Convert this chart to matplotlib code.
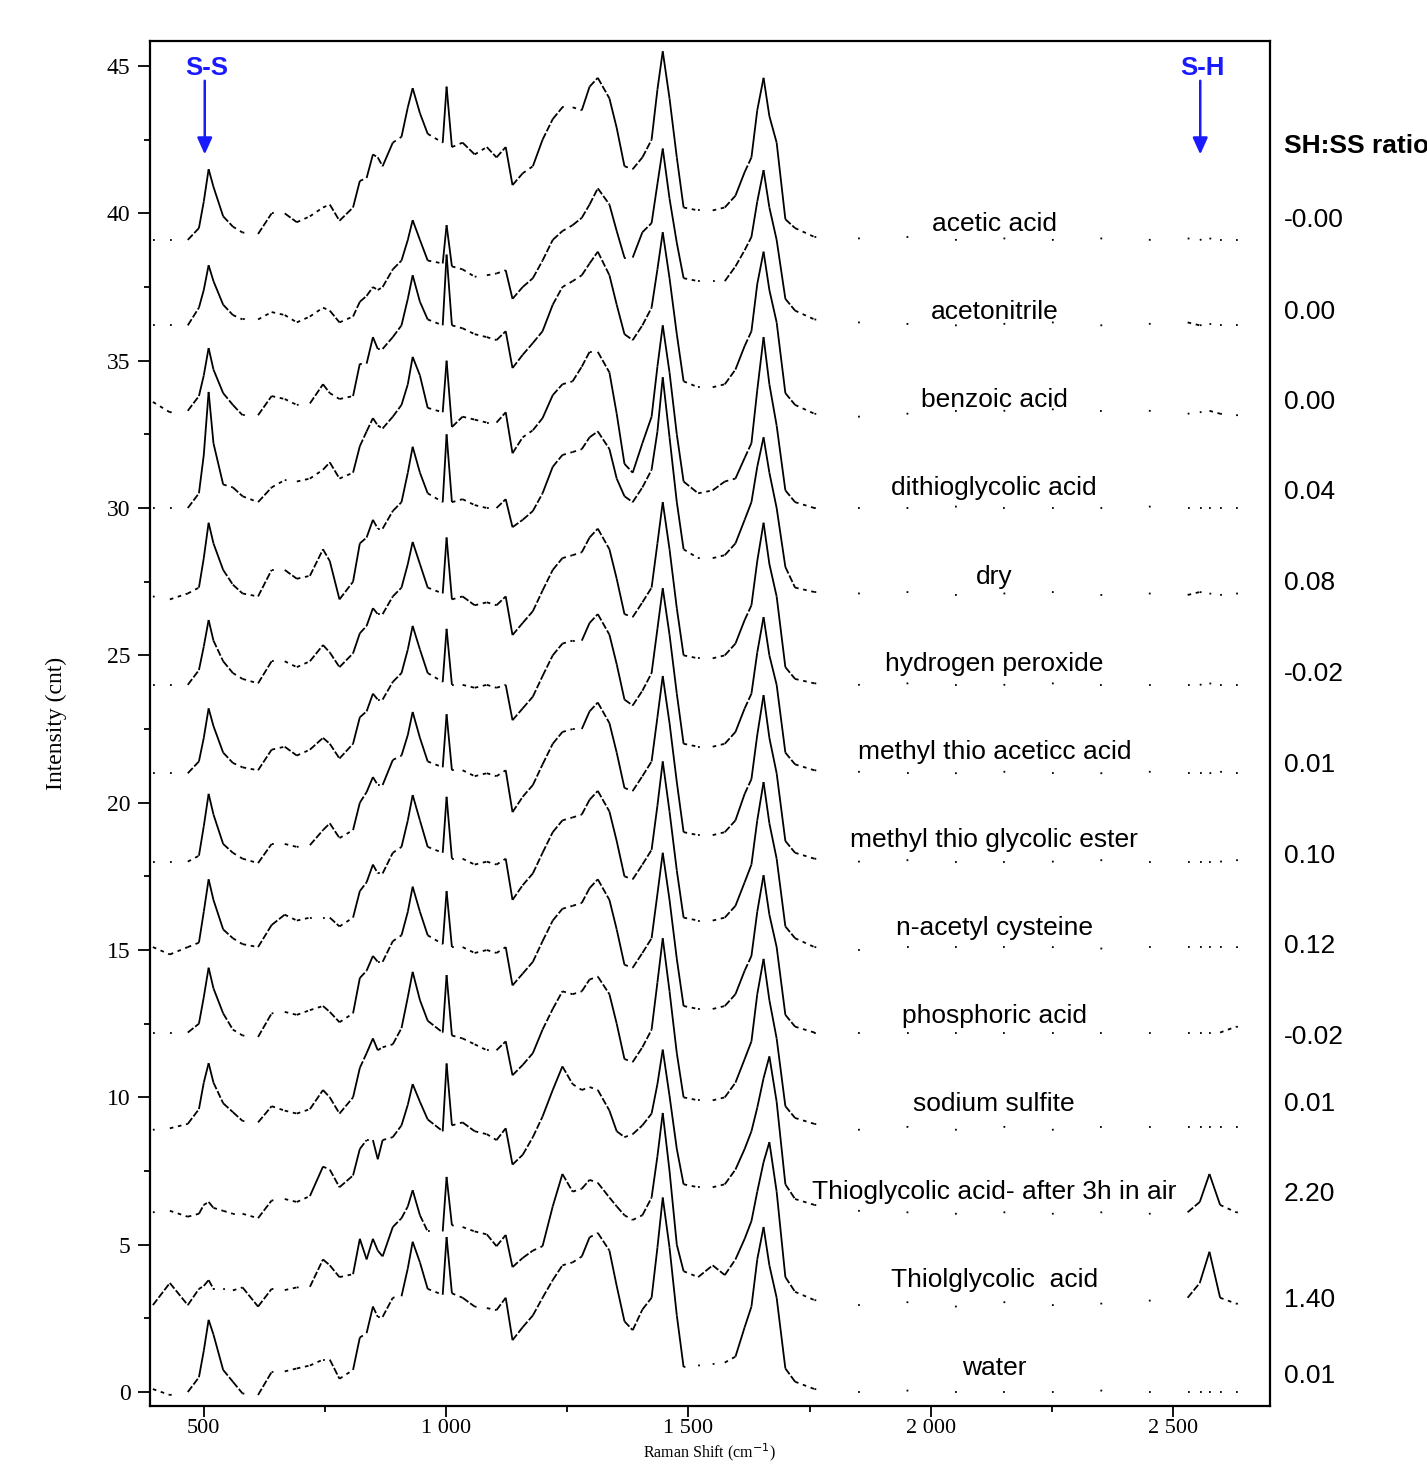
"""
Stacked Raman spectra of hair samples after different treatments,
with the S-S and S-H bands marked and the SH:SS ratio listed on the right.
"""

import numpy as np
import matplotlib
matplotlib.use("Agg")
import matplotlib.pyplot as plt
from matplotlib.collections import LineCollection

# Raman shift grid shared by all spectra (cm-1)
raman_shift = [
    395, 430, 467, 490, 500, 510, 520, 540, 560, 580,
    612, 640, 667, 692, 719, 746, 760, 780, 808, 822, 836, 849, 859, 869,
    890, 908, 921, 931, 946, 962, 993, 1001, 1012, 1034,
    1059, 1084, 1104, 1123, 1137, 1158, 1179, 1199, 1220, 1240,
    1261, 1280, 1296, 1313, 1337, 1352, 1368, 1385, 1405, 1424,
    1436, 1447, 1461, 1476, 1490, 1520, 1550, 1575, 1597, 1616,
    1630, 1642, 1655, 1667, 1682, 1700, 1720, 1760,
    1850, 1950, 2050, 2150, 2250, 2350, 2450, 2530, 2555, 2575, 2597, 2630, 2700,
]

# intensities relative to each trace's own stacking offset
acetic_acid = [
    0.0, 0.0, 0.0, 0.4, 1.3, 2.4, 1.8, 0.8, 0.45, 0.25,
    0.2, 0.9, 0.9, 0.6, 0.8, 1.1, 1.2, 0.65, 1.1, 2.0, 2.1, 2.9, 2.8, 2.5,
    3.3, 3.5, 4.5, 5.15, 4.3, 3.6, 3.3, 5.2, 3.15, 3.3,
    2.9, 3.15, 2.8, 3.15, 1.86, 2.26, 2.5, 3.4, 4.1, 4.5,
    4.5, 4.4, 5.2, 5.5, 4.8, 3.8, 2.5, 2.4, 2.8, 3.4,
    5.1, 6.4, 4.8, 2.8, 1.1, 1.0, 1.0, 1.1, 1.5, 2.3,
    2.8, 4.4, 5.5, 4.2, 3.3, 0.7, 0.4, 0.1,
    0.05, 0.1, 0.0, 0.05, 0.0, 0.05, 0.0, 0.05, 0.0, 0.05, 0.0, 0.0, 0.0,
]
acetonitrile = [
    0.0, 0.0, 0.0, 0.6, 1.2, 2.04, 1.5, 0.7, 0.35, 0.2,
    0.2, 0.45, 0.35, 0.1, 0.3, 0.6, 0.5, 0.1, 0.3, 0.8, 1.0, 1.3, 1.2, 1.3,
    1.9, 2.2, 2.9, 3.57, 2.9, 2.2, 2.1, 3.4, 2.0, 1.9,
    1.65, 1.7, 1.76, 1.87, 0.9, 1.3, 1.6, 2.2, 2.9, 3.2,
    3.4, 3.65, 4.1, 4.65, 4.1, 3.2, 2.3, 2.3, 3.16, 3.47,
    4.8, 6.0, 4.3, 2.8, 1.6, 1.5, 1.5, 1.5, 2.0, 2.55,
    3.0, 4.2, 5.27, 4.0, 2.9, 0.9, 0.5, 0.2,
    0.1, 0.05, 0.0, 0.05, 0.1, 0.0, 0.05, 0.1, 0.0, 0.05, 0.0, 0.0, 0.0,
]
benzoic_acid = [
    0.3, -0.05, 0.0, 0.5, 1.2, 2.13, 1.4, 0.6, 0.2, -0.15,
    -0.15, 0.5, 0.4, 0.2, 0.25, 0.9, 0.6, 0.4, 0.5, 1.6, 1.6, 2.5, 2.1, 2.1,
    2.5, 2.9, 3.8, 4.6, 3.7, 3.1, 2.9, 5.3, 2.9, 2.8,
    2.6, 2.5, 2.4, 2.7, 1.45, 1.9, 2.3, 2.7, 3.6, 4.2,
    4.4, 4.6, 5.0, 5.4, 4.6, 3.6, 2.6, 2.4, 2.9, 3.5,
    4.8, 6.06, 4.5, 2.6, 1.0, 0.8, 0.8, 0.9, 1.4, 2.2,
    2.7, 4.3, 5.4, 4.1, 3.0, 0.6, 0.2, -0.1,
    -0.2, -0.1, 0.0, 0.0, 0.05, 0.0, 0.0, -0.1, -0.05, 0.0, -0.1, -0.15, -0.1,
]
dithioglycolic_acid = [
    0.0, 0.0, 0.0, 0.5, 1.8, 3.94, 2.2, 0.8, 0.7, 0.4,
    0.2, 0.7, 0.95, 0.9, 1.0, 1.3, 1.55, 1.0, 1.2, 2.1, 2.6, 3.05, 2.8, 2.7,
    3.1, 3.5, 4.2, 5.13, 4.5, 3.4, 3.25, 5.0, 2.75, 3.1,
    3.0, 2.9, 2.9, 3.25, 1.86, 2.4, 2.64, 3.05, 3.83, 4.2,
    4.3, 4.8, 5.3, 5.3, 4.6, 3.2, 1.5, 1.2, 2.2, 3.1,
    4.8, 6.2, 4.6, 2.5, 0.9, 0.5, 0.6, 0.9, 1.0, 1.7,
    2.2, 4.0, 5.8, 4.2, 2.8, 0.6, 0.2, 0.0,
    0.0, 0.0, 0.05, 0.0, 0.0, 0.0, 0.05, 0.0, 0.0, 0.0, 0.0, 0.0, 0.0,
]
dry = [
    0.0, -0.1, 0.1, 0.3, 1.3, 2.5, 1.8, 0.9, 0.4, 0.1,
    0.0, 0.9, 0.9, 0.6, 0.7, 1.6, 1.2, -0.1, 0.5, 1.8, 2.0, 2.6, 2.3, 2.3,
    2.9, 3.2, 4.2, 5.08, 4.2, 3.5, 3.2, 5.5, 3.2, 3.3,
    3.1, 3.0, 3.0, 3.3, 2.35, 2.6, 2.9, 3.5, 4.4, 4.8,
    4.9, 5.0, 5.4, 5.6, 5.0, 4.0, 3.4, 3.2, 3.7, 4.3,
    5.6, 7.44, 5.4, 3.2, 1.6, 1.3, 1.3, 1.4, 1.8, 2.6,
    3.2, 4.4, 5.4, 4.2, 3.0, 1.0, 0.3, 0.15,
    0.1, 0.15, 0.05, 0.1, 0.15, 0.05, 0.1, 0.05, 0.15, 0.1, 0.05, 0.1, 0.05,
]
hydrogen_peroxide = [
    0.0, 0.0, 0.0, 0.5, 1.3, 2.2, 1.5, 0.8, 0.4, 0.2,
    0.05, 0.8, 0.8, 0.6, 0.8, 1.35, 1.1, 0.6, 1.07, 1.75, 2.0, 2.6, 2.4, 2.4,
    3.0, 3.3, 4.1, 4.85, 4.1, 3.3, 3.1, 5.0, 2.9, 3.0,
    2.7, 2.8, 2.7, 3.0, 1.69, 2.1, 2.5, 3.2, 3.9, 4.3,
    4.4, 4.5, 5.0, 5.3, 4.6, 3.6, 2.4, 2.3, 2.8, 3.3,
    4.8, 6.2, 4.6, 2.6, 1.0, 0.9, 0.9, 1.0, 1.4, 2.2,
    2.7, 4.2, 5.5, 4.1, 3.0, 0.6, 0.2, 0.05,
    0.0, 0.05, 0.0, 0.0, 0.05, 0.0, 0.0, 0.0, 0.0, 0.05, 0.0, 0.0, 0.0,
]
methyl_thio_acetic = [
    0.0, 0.0, 0.0, 0.4, 1.2, 2.2, 1.6, 0.7, 0.35, 0.2,
    0.1, 0.8, 0.9, 0.6, 0.8, 1.2, 1.0, 0.5, 1.0, 1.9, 2.1, 2.7, 2.5, 2.5,
    3.1, 3.4, 4.2, 5.0, 4.2, 3.4, 3.1, 4.9, 3.0, 3.0,
    2.9, 3.0, 2.9, 3.0, 1.8, 2.2, 2.6, 3.3, 4.0, 4.4,
    4.5, 4.5, 5.1, 5.4, 4.7, 3.7, 2.5, 2.3, 2.8, 3.4,
    4.9, 6.28, 4.7, 2.7, 1.0, 0.9, 0.9, 1.0, 1.4, 2.2,
    2.7, 4.1, 5.3, 4.0, 3.0, 0.7, 0.3, 0.1,
    0.05, 0.0, 0.0, 0.05, 0.0, 0.0, 0.05, 0.0, 0.0, 0.0, 0.05, 0.0, 0.0,
]
methyl_thio_glycolic_ester = [
    0.0, 0.0, 0.0, 0.2, 1.2, 2.3, 1.6, 0.6, 0.3, 0.1,
    -0.05, 0.6, 0.6, 0.5, 0.56, 1.07, 1.3, 0.8, 1.07, 2.0, 2.36, 2.87, 2.6, 2.6,
    3.45, 3.6, 4.3, 5.08, 4.2, 3.4, 3.2, 5.0, 3.1, 3.1,
    2.9, 3.0, 2.9, 3.1, 1.68, 2.2, 2.6, 3.3, 4.0, 4.4,
    4.5, 4.5, 5.1, 5.4, 4.7, 3.7, 2.5, 2.4, 2.9, 3.4,
    4.9, 6.3, 4.7, 2.7, 1.0, 0.9, 0.9, 1.0, 1.4, 2.3,
    2.8, 4.3, 5.65, 4.2, 3.0, 0.7, 0.3, 0.1,
    0.0, 0.05, 0.0, 0.0, 0.0, 0.05, 0.0, 0.0, 0.0, 0.0, 0.0, 0.05, 0.0,
]
n_acetyl_cysteine = [
    0.0, -0.25, 0.0, 0.15, 1.2, 2.3, 1.6, 0.6, 0.3, 0.1,
    0.0, 0.75, 1.1, 0.9, 1.0, 1.0, 1.0, 0.7, 1.0, 1.9, 2.2, 2.8, 2.5, 2.5,
    3.2, 3.4, 4.3, 5.16, 4.3, 3.4, 3.2, 5.1, 3.0, 3.0,
    2.8, 2.9, 2.8, 3.0, 1.6, 2.1, 2.5, 3.2, 3.9, 4.3,
    4.4, 4.5, 5.0, 5.3, 4.6, 3.6, 2.4, 2.3, 2.8, 3.3,
    4.8, 6.3, 4.6, 2.6, 1.0, 0.9, 0.9, 1.0, 1.4, 2.2,
    2.8, 4.3, 5.6, 4.2, 3.0, 0.7, 0.3, 0.0,
    -0.1, 0.0, 0.0, 0.0, 0.0, -0.05, 0.0, 0.0, 0.0, 0.0, 0.0, 0.0, -0.05,
]
phosphoric_acid = [
    0.0, 0.0, 0.0, 0.3, 1.2, 2.2, 1.5, 0.65, 0.1, -0.1,
    -0.15, 0.65, 0.7, 0.6, 0.76, 0.9, 0.7, 0.35, 0.65, 1.85, 2.1, 2.6, 2.4, 2.4,
    3.1, 3.3, 4.1, 4.95, 4.1, 3.3, 3.0, 4.8, 2.9, 2.9,
    2.7, 2.8, 2.7, 2.9, 1.6, 2.0, 2.4, 3.1, 3.8, 4.2,
    4.3, 4.4, 4.9, 5.2, 4.5, 3.5, 2.3, 2.2, 2.7, 3.2,
    4.7, 6.1, 4.5, 2.5, 0.9, 0.8, 0.8, 0.9, 1.3, 2.1,
    2.6, 4.1, 5.34, 4.0, 2.9, 0.6, 0.2, 0.0,
    0.0, 0.0, 0.0, 0.0, 0.0, 0.0, 0.0, 0.0, 0.0, 0.0, 0.0, 0.2, 0.0,
]
sodium_sulfite = [
    -0.1, -0.05, 0.1, 0.6, 1.5, 2.16, 1.5, 0.8, 0.5, 0.2,
    0.15, 0.7, 0.55, 0.45, 0.6, 1.25, 1.0, 0.45, 1.0, 2.0, 2.5, 3.0, 2.6, 2.7,
    2.8, 3.35, 4.4, 5.26, 4.3, 3.6, 3.2, 5.15, 3.1, 3.0,
    2.8, 2.6, 2.6, 2.9, 1.75, 2.1, 2.5, 3.3, 4.0, 4.6,
    4.5, 4.6, 5.0, 5.1, 4.5, 3.5, 2.3, 2.2, 2.7, 3.3,
    4.9, 6.4, 4.6, 2.5, 1.0, 0.9, 0.9, 1.0, 1.5, 2.3,
    2.9, 4.5, 5.7, 4.3, 3.0, 0.7, 0.3, 0.1,
    -0.1, 0.0, -0.1, 0.0, -0.1, 0.0, 0.0, 0.0, 0.0, 0.0, 0.0, 0.0, 0.0,
]
thioglycolic_3h_air = [
    0.05, 0.1, -0.1, 0.0, 0.3, 0.4, 0.2, 0.1, 0.0, 0.0,
    -0.15, 0.45, 0.5, 0.4, 0.6, 1.6, 1.5, 0.9, 1.3, 2.2, 2.5, 2.5, 1.85, 2.5,
    2.6, 3.0, 3.7, 4.4, 3.8, 3.2, 2.8, 5.1, 3.0, 3.1,
    2.8, 2.7, 2.5, 2.9, 1.67, 2.0, 2.6, 3.3, 4.2, 5.0,
    4.4, 4.2, 4.3, 4.2, 3.5, 2.8, 2.6, 2.7, 3.0, 3.4,
    4.4, 5.57, 4.0, 2.2, 1.0, 0.9, 0.9, 1.0, 1.5, 2.2,
    2.8, 3.6, 4.6, 5.34, 3.8, 1.0, 0.5, 0.3,
    0.1, 0.05, 0.0, 0.05, 0.0, 0.05, 0.0, 0.05, 0.4, 1.35, 0.3, 0.05, 0.0,
]
thiolglycolic_acid = [
    -0.05, 0.7, -0.05, 0.5, 0.6, 0.8, 0.5, 0.5, 0.45, 0.55,
    -0.1, 0.5, 0.46, 0.55, 0.57, 1.5, 1.3, 0.9, 1.0, 2.2, 1.5, 2.2, 1.8, 1.6,
    2.6, 2.9, 3.3, 3.85, 3.0, 2.45, 2.45, 4.3, 2.66, 2.6,
    2.45, 2.35, 1.95, 2.33, 1.24, 1.55, 1.8, 1.95, 3.3, 4.4,
    3.8, 3.9, 4.2, 4.1, 3.6, 3.3, 3.0, 2.84, 3.0, 3.6,
    5.0, 6.47, 4.5, 2.0, 1.1, 0.9, 1.3, 0.97, 1.5, 2.2,
    2.8, 3.8, 4.8, 5.48, 3.8, 0.9, 0.4, 0.12,
    -0.05, 0.05, -0.1, 0.05, -0.05, 0.0, 0.1, 0.2, 0.7, 1.76, 0.2, 0.0, -0.05,
]
water = [
    0.1, -0.1, 0.0, 0.5, 1.4, 2.45, 1.95, 0.75, 0.35, -0.05,
    -0.1, 0.68, 0.7, 0.8, 0.9, 1.1, 1.1, 0.45, 0.75, 1.85, 2.0, 2.9, 2.55, 2.55,
    3.2, 3.25, 4.2, 5.1, 4.4, 3.5, 3.3, 5.26, 3.35, 3.2,
    2.9, 2.85, 2.78, 3.2, 1.76, 2.2, 2.6, 3.2, 3.8, 4.3,
    4.4, 4.6, 5.25, 5.4, 4.8, 3.6, 2.4, 2.1, 2.8, 3.2,
    4.9, 6.6, 4.9, 2.6, 0.85, 0.9, 0.95, 1.0, 1.2, 2.2,
    2.9, 4.5, 5.6, 4.3, 3.2, 0.8, 0.35, 0.1,
    0.0, 0.05, 0.0, 0.0, 0.0, 0.05, 0.0, 0.0, 0.0, 0.0, 0.0, 0.0, 0.0,
]

spectra = [acetic_acid, acetonitrile, benzoic_acid, dithioglycolic_acid, dry,
           hydrogen_peroxide, methyl_thio_acetic, methyl_thio_glycolic_ester,
           n_acetyl_cysteine, phosphoric_acid, sodium_sulfite,
           thioglycolic_3h_air, thiolglycolic_acid, water]
offsets = [39.1, 36.2, 33.3, 30.0, 27.0, 24.0, 21.0, 18.0, 15.1, 12.2, 9.0, 6.05, 3.0, 0.0]

sample_names = ["acetic acid", "acetonitrile", "benzoic acid", "dithioglycolic acid",
                "dry", "hydrogen peroxide", "methyl thio aceticc acid",
                "methyl thio glycolic ester", "n-acetyl cysteine", "phosphoric acid",
                "sodium sulfite", "Thioglycolic acid- after 3h in air",
                "Thiolglycolic  acid", "water"]
name_y = [39.63, 36.65, 33.66, 30.68, 27.66, 24.7, 21.72, 18.73, 15.75, 12.76,
          9.77, 6.79, 3.8, 0.81]

ratio_labels = ["-0.00", "0.00", "0.00", "0.04", "0.08", "-0.02", "0.01", "0.10",
                "0.12", "-0.02", "0.01", "2.20", "1.40", "0.01"]
ratio_y = [39.77, 36.65, 33.59, 30.54, 27.45, 24.36, 21.27, 18.18, 15.13, 12.05,
           9.77, 6.72, 3.12, 0.54]

x_ticks = [500, 1000, 1500, 2000, 2500]
x_tick_labels = ["500", "1 000", "1 500", "2 000", "2 500"]
y_ticks = [0, 5, 10, 15, 20, 25, 30, 35, 40, 45]

SERIF = ["Liberation Serif", "DejaVu Serif"]
SANS = ["Liberation Sans", "DejaVu Sans"]


def draw_trace(ax, x, y):
    """Draw one spectrum; steep parts solid, flat parts broken up like the scan."""
    x = np.asarray(x, float)
    y = np.asarray(y, float)
    pts = ax.transData.transform(np.column_stack([x, y]))
    d = np.diff(pts, axis=0)
    slope = np.abs(d[:, 1]) / np.maximum(np.abs(d[:, 0]), 1e-9)
    segs = np.stack([np.column_stack([x[:-1], y[:-1]]),
                     np.column_stack([x[1:], y[1:]])], axis=1)

    classes = [
        (slope >= 2.2, "solid"),
        ((slope >= 0.7) & (slope < 2.2), (0, (4.0, 1.2))),
        ((slope >= 0.18) & (slope < 0.7), (0, (2.0, 2.6))),
        (slope < 0.18, (0, (1.0, 30.0))),
    ]
    for mask, ls in classes:
        if mask.any():
            lc = LineCollection(segs[mask], colors="black", linewidths=1.3,
                                linestyles=ls, capstyle="butt")
            ax.add_collection(lc)


def main():
    fig = plt.figure(figsize=(14.27, 14.64), dpi=100)
    ax = fig.add_axes([0.1051, 0.0396, 0.7849, 0.9324])

    ax.set_xlim(389, 2700)
    ax.set_ylim(-0.475, 45.85)

    for spec, off in zip(spectra, offsets):
        draw_trace(ax, raman_shift, np.asarray(spec) + off)

    # sample names in the middle of the flat region
    for name, yy in zip(sample_names, name_y):
        ax.text(2131, yy, name, ha="center", va="center", fontsize=19,
                family=SANS, color="black")

    # SH:SS ratio column outside the frame
    yt = ax.get_yaxis_transform()
    ax.text(1.0125, 42.3, "SH:SS ratio", transform=yt, ha="left", va="center",
            fontsize=19, fontweight="bold", family=SANS, clip_on=False)
    for lab, yy in zip(ratio_labels, ratio_y):
        ax.text(1.0125, yy, lab, transform=yt, ha="left", va="center",
                fontsize=19, family=SANS, clip_on=False)

    # band markers
    for lab, xx in [("S-S", 502), ("S-H", 2556)]:
        ax.text(xx + 5, 44.95, lab, ha="center", va="center", fontsize=18.5,
                fontweight="bold", color="#1a1aff", family=SANS)
        ax.annotate("", xy=(xx, 42.0), xytext=(xx, 44.5),
                    arrowprops=dict(arrowstyle="-|>,head_width=0.45,head_length=1.0",
                                    color="#1a1aff", lw=1.8, shrinkA=0, shrinkB=0))

    # axes styling
    ax.set_xticks(x_ticks)
    ax.set_xticklabels(x_tick_labels)
    ax.set_xticks([750, 1250, 1750, 2250], minor=True)
    ax.set_yticks(y_ticks)
    ax.set_yticks(np.arange(2.5, 45, 5), minor=True)
    ax.tick_params(which="major", direction="out", length=9, width=1.3,
                   labelsize=17, pad=5)
    ax.tick_params(which="minor", direction="out", length=4, width=1.3)
    ax.tick_params(axis="x", which="major", length=8, labelsize=16, pad=1.5)
    ax.tick_params(axis="x", which="both", top=False)
    ax.tick_params(axis="y", which="both", right=False)
    for lab in ax.get_xticklabels() + ax.get_yticklabels():
        lab.set_family(SERIF)
    for spine in ax.spines.values():
        spine.set_linewidth(1.6)

    # x label squeezed in just above the bottom edge of the figure
    ax.set_xlabel("Raman Shift (cm$^{-1}$)", fontsize=11.5, family=SERIF)
    ax.xaxis.label.set_va("bottom")
    ax.xaxis.set_label_coords(0.5, -0.0420)
    ax.set_ylabel("Intensity (cnt)", fontsize=17, family=SERIF)
    ax.yaxis.set_label_coords(-0.074, 0.5)

    fig.savefig("out.png", dpi=100, facecolor="white")


if __name__ == "__main__":
    main()
